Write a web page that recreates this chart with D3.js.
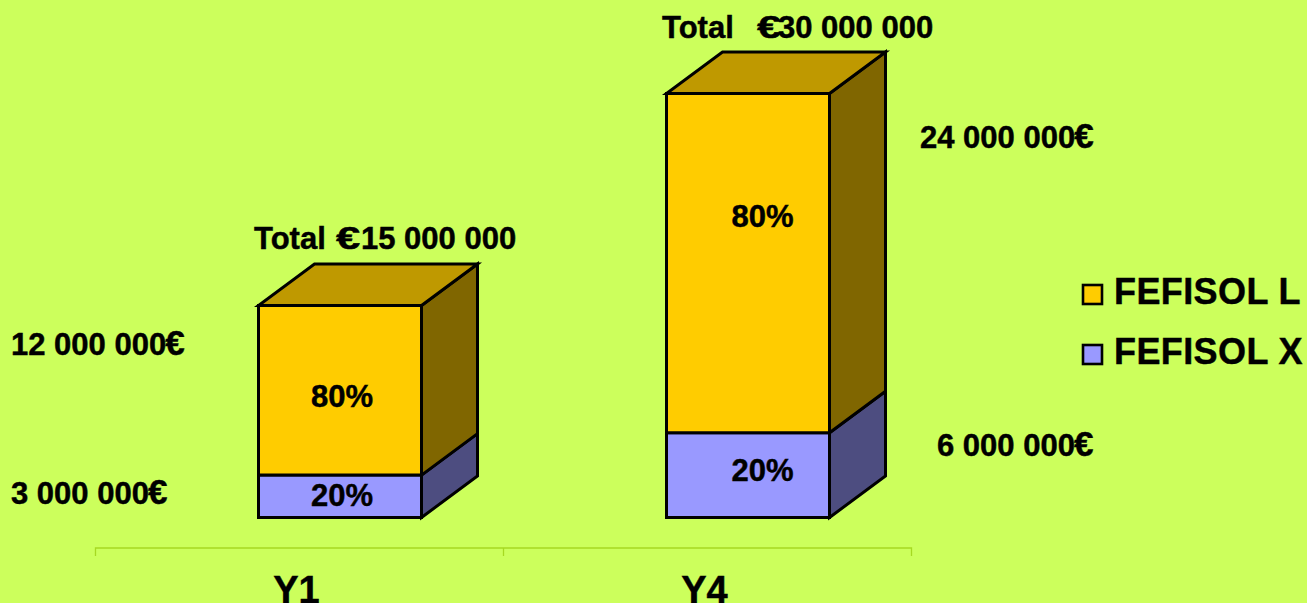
<!DOCTYPE html>
<html>
<head>
<meta charset="utf-8">
<script src="https://cdn.jsdelivr.net/npm/d3@7"></script>
<style>
    html, body {margin: 0; padding: 0; background: #ccff5c; overflow: hidden;}
    svg {display: block;}
    text {font-family: "Liberation Sans", Arial, sans-serif; font-weight: bold; fill: #000; stroke: #000; stroke-width: 0.45px;}
</style>
</head>
<body>
<div id="chart"></div>
<script>
const years = ["Y1", "Y4"];
const seriesNames = ["FEFISOL X", "FEFISOL L"];
const fefisolX = [3000000, 6000000];
const fefisolL = [12000000, 24000000];
const shares = [["20%", "80%"], ["20%", "80%"]];
const totalPrefix = "Total";

const width = 1307, height = 603;
const colors = {
    "FEFISOL X": {front: "#9999ff", side: "#4d4d80", top: "#7373bf"},
    "FEFISOL L": {front: "#ffcc00", side: "#806600", top: "#bf9900"}
};

const svg = d3.select("#chart").append("svg")
    .attr("width", width)
    .attr("height", height);

const x = d3.scaleBand().domain(years).range([95.5, 911.5]);
const y = d3.scaleLinear().domain([0, 30000000]).range([517.5, 93.5]);

// fake 3d: depth of the box and front face width
const depthX = 56, depthY = -41.5, faceW = 163, faceShift = -41;

const rows = years.map((d, i) => ({year: d, "FEFISOL X": fefisolX[i], "FEFISOL L": fefisolL[i]}));
const stacked = d3.stack().keys(seriesNames)(rows);
const money = v => d3.format(",")(v).replace(/,/g, " ");
const faceX = d => x(d) + x.bandwidth() / 2 + faceShift;

const poly = pts => d3.line()(pts) + "Z";

// axis: line with ticks on the band edges, labels from d3.axisBottom
const axisEdges = [x.range()[0], x(years[1]), x.range()[1]];
svg.append("path")
    .attr("fill", "none")
    .attr("stroke", "#a6d922")
    .attr("stroke-width", 1.3)
    .attr("d", d3.line()([[axisEdges[0], 556], [axisEdges[0], 548], [axisEdges[2], 548], [axisEdges[2], 556]]));
svg.append("path")
    .attr("fill", "none")
    .attr("stroke", "#a6d922")
    .attr("stroke-width", 1.3)
    .attr("d", d3.line()([[axisEdges[1], 548], [axisEdges[1], 556]]));

const axis = svg.append("g")
    .attr("transform", "translate(0, 548)")
    .call(d3.axisBottom(x).tickSize(0).tickPadding(26));
axis.select(".domain").remove();
axis.selectAll("text")
    .attr("font-size", 38)
    .attr("font-family", null)
    .attr("dy", null)
    .attr("y", 55)
    .attr("dx", -3);

// boxes
stacked.forEach(function (s) {
    const g = svg.append("g").attr("class", "series");
    const cols = colors[s.key];
    s.forEach(function (d) {
        const x0 = faceX(d.data.year), x1 = x0 + faceW;
        const yb = y(d[0]), yt = y(d[1]);
        g.append("path")
            .attr("d", poly([[x1, yb], [x1 + depthX, yb + depthY], [x1 + depthX, yt + depthY], [x1, yt]]))
            .attr("fill", cols.side)
            .attr("stroke", "#000").attr("stroke-width", 3).attr("stroke-linejoin", "miter");
        g.append("path")
            .attr("d", poly([[x0, yb], [x1, yb], [x1, yt], [x0, yt]]))
            .attr("fill", cols.front)
            .attr("stroke", "#000").attr("stroke-width", 3);
        if (s.key === seriesNames[seriesNames.length - 1]) {
            g.append("path")
                .attr("d", poly([[x0, yt], [x1, yt], [x1 + depthX, yt + depthY], [x0 + depthX, yt + depthY]]))
                .attr("fill", cols.top)
                .attr("stroke", "#000").attr("stroke-width", 3);
        }
    });
});

const fs = 31;
const label = (px, py) => svg.append("text").attr("x", px).attr("y", py).attr("font-size", fs);

// labels: euro sign is wider in the original and runs into the digits
function euroAfter(px, py, v) {
    const t = label(px, py).text(money(v));
    t.append("tspan").attr("dx", -1).attr("font-size", 35).text("€");
}
function total(px, py, euroX, digitsX, v) {
    label(px, py).text(totalPrefix);
    label(0, 0)
        .attr("transform", `translate(${euroX}, ${py}) scale(1.4, 1)`)
        .text("€");
    label(digitsX, py).text(money(v));
}

euroAfter(11, 354.5, fefisolL[0]);
euroAfter(11, 503.5, fefisolX[0]);
euroAfter(920, 147.5, fefisolL[1]);
euroAfter(937, 455.5, fefisolX[1]);

total(254, 248.5, 336, 361, fefisolX[0] + fefisolL[0]);
total(662, 37.5, 757, 778, fefisolX[1] + fefisolL[1]);

// share labels
label(faceX(years[0]) + 52.5, 406.5).text(shares[0][1]);
label(faceX(years[0]) + 52.5, 505.5).text(shares[0][0]);
label(faceX(years[1]) + 65, 226.5).text(shares[1][1]);
label(faceX(years[1]) + 65, 480.5).text(shares[1][0]);

// legend
const legendY = [284, 344];
["FEFISOL L", "FEFISOL X"].forEach(function (name, i) {
    svg.append("rect")
        .attr("x", 1083).attr("y", legendY[i] + 1)
        .attr("width", 19).attr("height", 19)
        .attr("fill", colors[name].front)
        .attr("stroke", "#000").attr("stroke-width", 2.6);
    svg.append("text")
        .attr("x", 1114).attr("y", legendY[i] + 20)
        .attr("font-size", 36)
        .attr("letter-spacing", 0.4)
        .text(name);
});
</script>
</body>
</html>
